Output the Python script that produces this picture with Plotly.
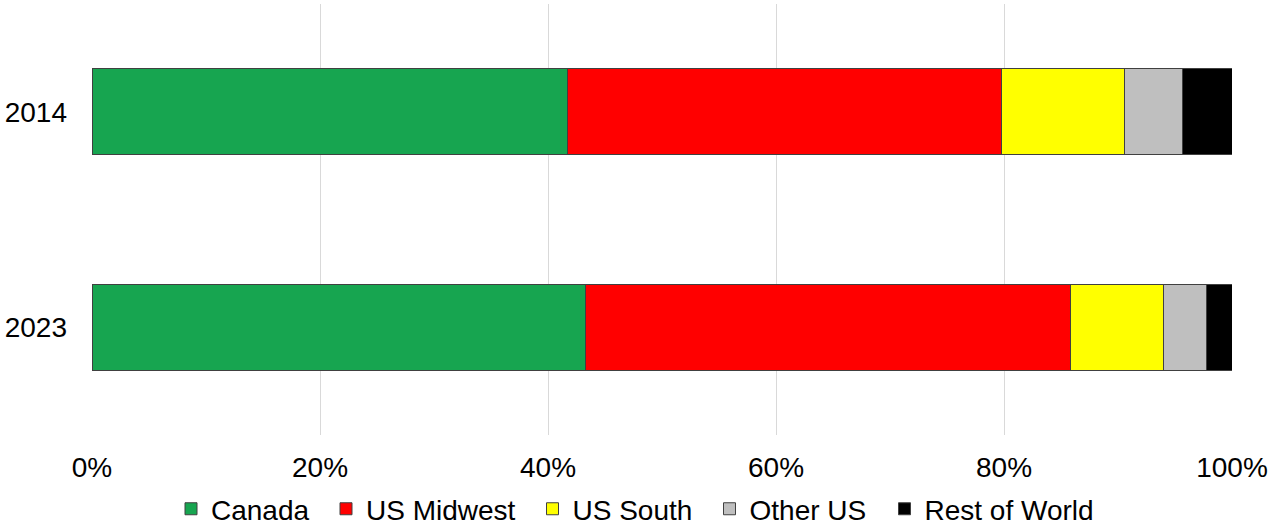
import plotly.graph_objects as go

years = ["2014", "2023"]
series_names = ["Canada", "US Midwest", "US South", "Other US", "Rest of World"]
canada = [41.7, 43.3]
us_midwest = [38.1, 42.5]
us_south = [10.8, 8.2]
other_us = [5.1, 3.75]
rest_of_world = [4.3, 2.25]
x_tick_vals = [0, 20, 40, 60, 80, 100]
x_tick_text = ["0%", "20%", "40%", "60%", "80%", "100%"]

colors = ["#17A550", "#FF0000", "#FFFF00", "#BFBFBF", "#000000"]
legend_widths = [110, 161.5, 132, 130, 185]
values = [canada, us_midwest, us_south, other_us, rest_of_world]

FONT = "Liberation Sans, Arial, sans-serif"
FS = 28

fig = go.Figure()
for name, vals, col, lw in zip(series_names, values, colors, legend_widths):
    fig.add_trace(go.Bar(
        y=years, x=vals, name=name, orientation="h",
        marker=dict(color=col, line=dict(color="#404040", width=1)),
        legendwidth=lw,
    ))

fig.update_layout(
    width=1270, height=525,
    barmode="stack", bargap=0.6,
    paper_bgcolor="white", plot_bgcolor="white",
    margin=dict(l=92, r=38, t=4, b=90, autoexpand=False),
    font=dict(family=FONT, size=FS, color="#000000"),
    showlegend=True,
    legend=dict(
        orientation="h", xref="container", yref="container",
        x=171 / 1270, xanchor="left", y=0.078, yanchor="top",
        font=dict(family=FONT, size=FS, color="#000000"),
        traceorder="normal", bgcolor="rgba(0,0,0,0)",
    ),
    xaxis=dict(
        range=[0, 100], tickvals=x_tick_vals, ticktext=x_tick_text,
        showgrid=True, gridcolor="#D9D9D9", gridwidth=1,
        zeroline=False, showline=False, ticks="",
        ticklabelstandoff=13,
        tickfont=dict(family=FONT, size=FS, color="#000000"),
        fixedrange=True,
    ),
    yaxis=dict(
        categoryorder="array", categoryarray=years, autorange="reversed",
        showgrid=False, zeroline=False, showline=False, ticks="",
        ticklabelstandoff=24,
        tickfont=dict(family=FONT, size=FS, color="#000000"),
    ),
)

fig.write_html("out.html")
